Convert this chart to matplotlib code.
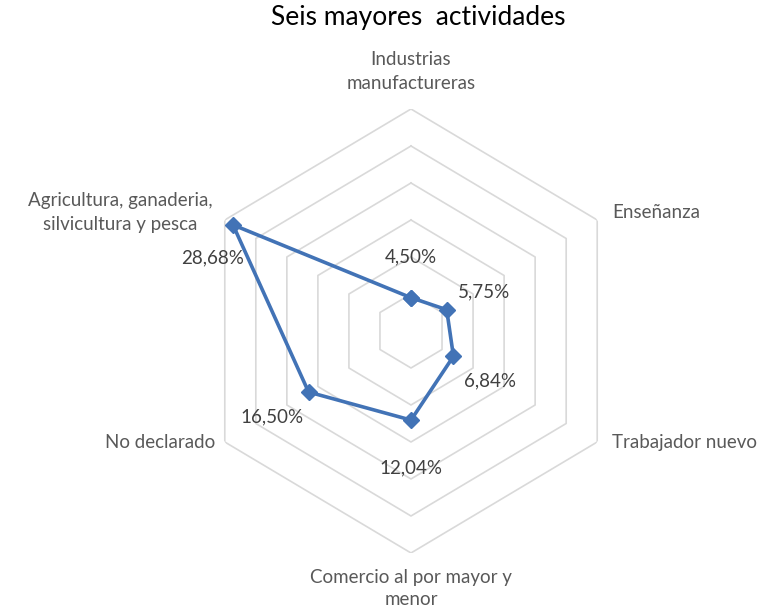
import numpy as np
import matplotlib
matplotlib.use("Agg")
import matplotlib.pyplot as plt

categories = ["Industrias\nmanufactureras", "Enseñanza", "Trabajador nuevo",
              "Comercio al por mayor y\nmenor", "No declarado",
              "Agricultura, ganaderia,\nsilvicultura y pesca"]
values = [4.50, 5.75, 6.84, 12.04, 16.50, 28.68]
value_labels = ["4,50%", "5,75%", "6,84%", "12,04%", "16,50%", "28,68%"]
rings = [5, 10, 15, 20, 25, 30]
title = "Seis mayores  actividades"

plt.rcParams['font.family'] = ['Lato', 'DejaVu Sans']

fig = plt.figure(figsize=(7.74, 6.13), dpi=100)
ax = fig.add_axes([0.2532, 0.0979, 0.5556, 0.7243], projection='polar')
ax.set_aspect('auto')
ax.set_theta_zero_location('N')
ax.set_theta_direction(-1)
ax.set_ylim(0, 30)
ax.set_xticks([])
ax.set_yticks([])
ax.grid(False)
ax.spines['polar'].set_visible(False)
ax.patch.set_alpha(0)

n = len(categories)
angles = np.linspace(0, 2 * np.pi, n, endpoint=False)
closed = np.concatenate([angles, angles[:1]])

# hexagonal gridlines
for r in rings:
    ax.plot(closed, [r] * (n + 1), color='#d9d9d9', lw=1.2, zorder=1)

vals_closed = values + values[:1]
ax.plot(closed, vals_closed, color='#4273b6', lw=2.6, marker='D', markersize=8.5,
        markerfacecolor='#4273b6', markeredgecolor='#4273b6', zorder=3, clip_on=False)

px = 0.72  # pixels -> points at 100 dpi
# data labels (offsets in pixels from the marker)
offsets = [(0, 41), (37, 18), (37, -25), (0, -48), (-37, -25), (-20, -33)]
for a, v, lab, (dx, dy) in zip(angles, values, value_labels, offsets):
    ax.annotate(lab, xy=(a, v), xytext=(dx * px, dy * px), textcoords='offset points',
                ha='center', va='center', fontsize=13.5, color='#404040', zorder=4)

# category labels (offsets in pixels from outer vertex)
cat_pos = [((0, 17), 'center', 'bottom', 1.5), ((15, 7), 'left', 'center', 1.5),
           ((15, -1), 'left', 'center', 1.5), ((0, -16), 'center', 'top', 1.35),
           ((-10, -1), 'right', 'center', 1.5), ((-12, 7), 'right', 'center', 1.5)]
for cat, a, ((dx, dy), ha, va, ls) in zip(categories, angles, cat_pos):
    ax.annotate(cat, xy=(a, rings[-1]), xytext=(dx * px, dy * px),
                textcoords='offset points', ha=ha, va=va, multialignment='center',
                fontsize=13.5, color='#595959', linespacing=ls)

fig.text(0.54, 0.971, title, ha='center', va='center', fontsize=19, color='black')

fig.savefig("out.png", dpi=100, facecolor='white')
